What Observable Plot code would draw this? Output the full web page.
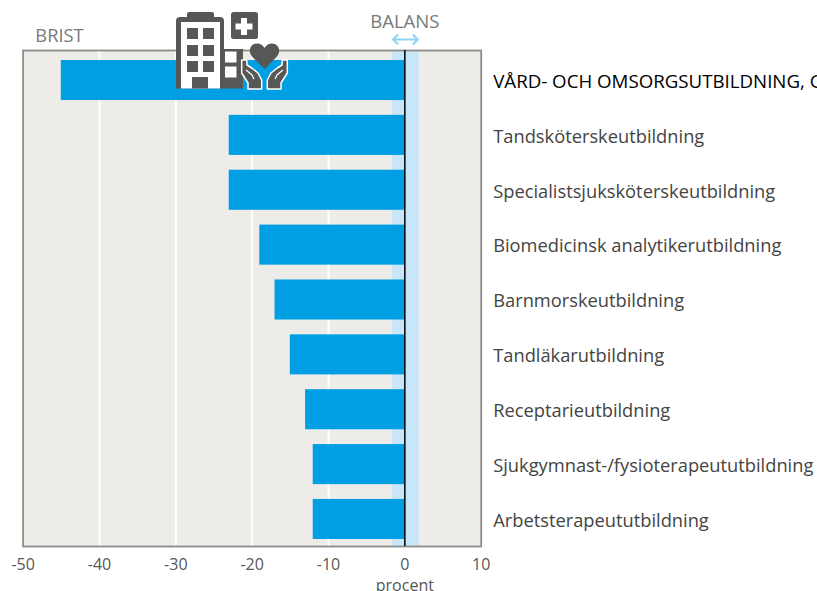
<!DOCTYPE html>
<html><head><meta charset="utf-8">
<script src="https://cdn.jsdelivr.net/npm/d3@7"></script>
<script src="https://cdn.jsdelivr.net/npm/@observablehq/plot@0.6"></script>
<style>html,body{margin:0;padding:0;background:#fff}svg{display:block}</style>
</head><body><div id="c"></div>
<script>
const utbildningar = ["VÅRD- OCH OMSORGSUTBILDNING, GRUND","Tandsköterskeutbildning","Specialistsjuksköterskeutbildning","Biomedicinsk analytikerutbildning","Barnmorskeutbildning","Tandläkarutbildning","Receptarieutbildning","Sjukgymnast-/fysioterapeututbildning","Arbetsterapeututbildning"];
const varden = [-45,-23,-23,-19,-17,-15,-13,-12,-12];
const xTicks = [-50,-40,-30,-20,-10,0,10];
const gridTicks = [-40,-30,-20,-10];
const balans = [-1.6,1.9];
const rows = utbildningar.map((u,i)=>({u,v:varden[i],first:i===0}));
const font = "'Open Sans', sans-serif";

function arrowMark(index,{x}){
  const g = d3.create("svg:g");
  const a=x(balans[0]), b=x(balans[1]), y=39.5;
  g.append("path").attr("d",`M${a+1} ${y}H${b-1}M${a+6} ${y-5}L${a+1} ${y}L${a+6} ${y+5}M${b-6} ${y-5}L${b-1} ${y}L${b-6} ${y+5}`)
   .attr("fill","none").attr("stroke","#8fd3f7").attr("stroke-width",2);
  return g.node();
}
function icon(){
  const g = d3.create("svg:g");
  const c="#575756";
  g.append("path").attr("fill",c).attr("d","M187 14a2 2 0 0 1 2-2h23a2 2 0 0 1 2 2v3h6a4 4 0 0 1 4 4v28h19v39.5H176V21a4 4 0 0 1 4-4h7z");
  g.append("rect").attr("x",231).attr("y",12).attr("width",27).attr("height",27).attr("rx",2.5).attr("fill",c);
  g.append("path").attr("fill","#fff").attr("d","M241 18h6v5.5h5.500v6h-5.500v5.500h-6v-5.500h-5.500v-6h5.500z");
  g.append("rect").attr("x",181).attr("y",22).attr("width",39).attr("height",66.500).attr("fill","#fff");
  for(const yy of [28,45,61]) for(const xx of [187,203]) g.append("rect").attr("x",xx).attr("y",yy).attr("width",11).attr("height",11).attr("fill",c);
  g.append("rect").attr("x",192).attr("y",77).attr("width",16).attr("height",11.500).attr("fill",c);
  for(const [xx,yy] of [[225,51.500],[225,66.500]]) g.append("rect").attr("x",xx).attr("y",yy).attr("width",11.500).attr("height",11).attr("fill","#fff");
  const hand = "M241.700 60 L241.700 73 L248 83 L248 89 L261.700 89 L261.700 80 L258 73 L251.700 68 L247 65 L246.700 60 Z";
  const inner = "M246 70 L252 75 L254 79";
  for(const t of [null,"translate(529,0) scale(-1,1)"]){
    const h=g.append("g"); if(t) h.attr("transform",t);
    h.append("path").attr("d",hand).attr("fill",c).attr("stroke","#fff").attr("stroke-width",1.500).attr("stroke-linejoin","round");
    h.append("path").attr("d",inner).attr("fill","none").attr("stroke","#fff").attr("stroke-width",1.200);
  }
  g.append("path").attr("fill",c).attr("d","M264.500 69 L252 56.500 C247.500 51 250.500 43.500 257 43.500 C260.500 43.500 263 45.500 264.500 48 C266 45.500 268.500 43.500 272 43.500 C278.500 43.500 281.500 51 277 56.500 Z");
  return g.node();
}

const plot = Plot.plot({
  width:817, height:591,
  marginLeft:22.6, marginRight:336.3, marginTop:50, marginBottom:45,
  style:{fontFamily:font, background:"#fff"},
  x:{domain:[-50,10], axis:null},
  y:{domain:utbildningar, range:[52.6,546.4], paddingInner:0.27, paddingOuter:0.135, round:false, axis:null},
  marks:[
    Plot.frame({fill:"#edecE8", stroke:"none"}),
    Plot.ruleX(gridTicks,{stroke:"#fff",strokeWidth:2}),
    Plot.rect([0],{x1:balans[0],x2:balans[1],fill:"#c8e6fa"}),
    Plot.barX(rows,{x1:"v",x2:0,y:"u",fill:"#009fe3"}),
    Plot.frame({stroke:"#8c8c8b",strokeWidth:1.8,strokeOpacity:1}),
    Plot.ruleX([0],{stroke:"#000",strokeWidth:1.5}),
    Plot.text(rows.filter(d=>!d.first),{x:10,y:"u",text:"u",dx:12,dy:1.5,textAnchor:"start",fontSize:18.3,fill:"#444443",lineAnchor:"middle"}),
    Plot.text(rows.filter(d=>d.first),{x:10,y:"u",text:"u",dx:12,dy:1.5,textAnchor:"start",fontSize:18.7,fill:"#000",lineAnchor:"middle"}),
    Plot.text(xTicks,{x:d=>d,text:d=>String(d),frameAnchor:"bottom",dy:23,fontSize:16,fill:"#575756",lineAnchor:"bottom"}),
    Plot.text(["procent"],{x:0,frameAnchor:"bottom",dy:44,fontSize:16,fill:"#575756",lineAnchor:"bottom"}),
    Plot.text(["BRIST"],{x:-48.4,frameAnchor:"top",dy:-9,fontSize:18.3,fill:"#7a7a7a",textAnchor:"start",lineAnchor:"bottom"}),
    Plot.text(["BALANS"],{x:0,frameAnchor:"top",dy:-23,fontSize:18.6,fill:"#7a7a7a",lineAnchor:"bottom"}),
    arrowMark,
    icon
  ]
});
document.getElementById("c").append(plot);
</script></body></html>
